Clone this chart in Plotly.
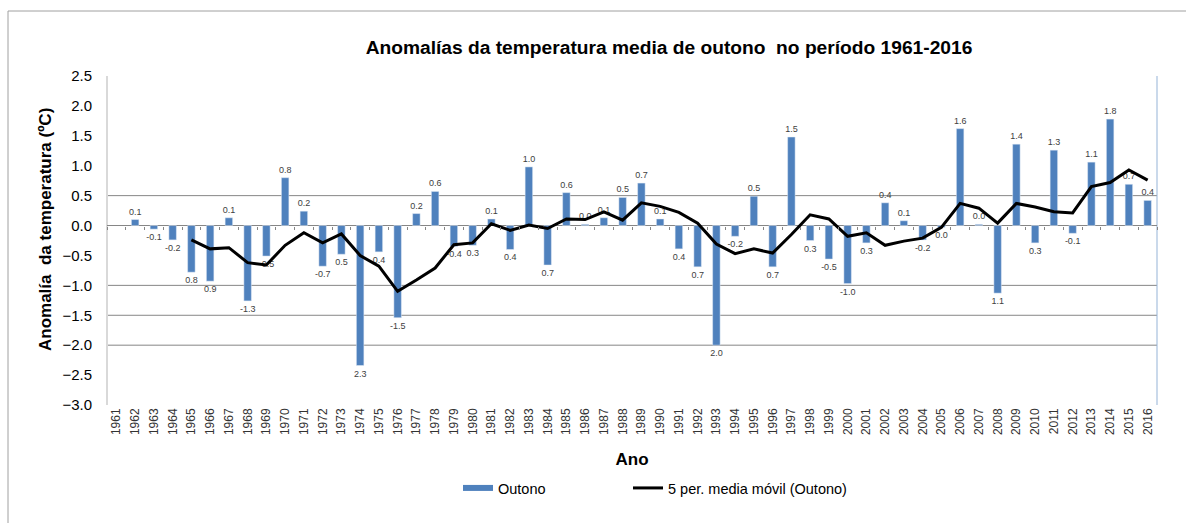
import plotly.graph_objects as go

years = list(range(1961, 2017))
year_labels = [str(y) for y in years]

anomaly = [None, 0.10, -0.06, -0.24, -0.78, -0.93, 0.13, -1.26, -0.51, 0.80,
           0.24, -0.68, -0.48, -2.34, -0.44, -1.54, 0.20, 0.57, -0.35, -0.33,
           0.11, -0.40, 0.98, -0.66, 0.55, 0.02, 0.13, 0.47, 0.71, 0.11,
           -0.39, -0.69, -2.00, -0.18, 0.49, -0.69, 1.48, -0.25, -0.56, -0.97,
           -0.29, 0.38, 0.08, -0.24, -0.03, 1.62, 0.02, -1.13, 1.36, -0.29,
           1.26, -0.13, 1.06, 1.78, 0.69, 0.42]

bar_text = ["", "0.1", "-0.1", "-0.2", "0.8", "0.9", "0.1", "-1.3", "-0.5", "0.8",
            "0.2", "-0.7", "0.5", "2.3", "0.4", "-1.5", "0.2", "0.6", "-0.4", "0.3",
            "0.1", "0.4", "1.0", "0.7", "0.6", "0.0", "0.1", "0.5", "0.7", "0.1",
            "0.4", "0.7", "2.0", "-0.2", "0.5", "0.7", "1.5", "0.3", "-0.5", "-1.0",
            "0.3", "0.4", "0.1", "-0.2", "0.0", "1.6", "0.0", "1.1", "1.4", "0.3",
            "1.3", "-0.1", "1.1", "1.8", "0.7", "0.4"]

moving_avg = [None, None, None, None, -0.24, -0.39, -0.37, -0.62, -0.66, -0.33,
              -0.12, -0.29, -0.14, -0.50, -0.68, -1.10, -0.91, -0.71, -0.32, -0.29,
              0.03, -0.08, 0.01, -0.05, 0.11, 0.10, 0.23, 0.09, 0.38, 0.32,
              0.22, 0.04, -0.31, -0.47, -0.39, -0.46, -0.15, 0.18, 0.11, -0.18,
              -0.12, -0.33, -0.26, -0.21, -0.03, 0.37, 0.29, 0.04, 0.37, 0.31,
              0.23, 0.21, 0.65, 0.72, 0.93, 0.76]

y_min, y_max = -3.0, 2.5
visible_grid = [0.5, -1.0, -1.5, -2.0]

FONT = "Liberation Sans, Arial, sans-serif"
BLUE = "#4F81BD"

fig = go.Figure()

fig.add_trace(go.Bar(
    x=year_labels, y=anomaly, name="Outono", marker_color=BLUE,
    text=bar_text, textposition="outside", constraintext="none", cliponaxis=False,
    textfont=dict(size=9, color="#404040", family=FONT),
    showlegend=False, hoverinfo="x+y",
))
fig.add_trace(go.Scatter(
    x=year_labels, y=moving_avg, mode="lines", name="5 per. media móvil (Outono)",
    line=dict(color="black", width=3), xaxis="x2", showlegend=False,
))
# legend entries
fig.add_trace(go.Scatter(x=[None], y=[None], mode="lines", name="Outono",
                         line=dict(color=BLUE, width=6), legend="legend"))
fig.add_trace(go.Scatter(x=[None], y=[None], mode="lines", name="5 per. media móvil (Outono)",
                         line=dict(color="black", width=3), legend="legend2"))

shapes = []
for g in visible_grid:
    shapes.append(dict(type="line", xref="paper", yref="y", x0=0, x1=1, y0=g, y1=g,
                       line=dict(color="#868686", width=1), layer="below"))
shapes.append(dict(type="line", xref="paper", yref="paper", x0=0, x1=0, y0=0, y1=1,
                   line=dict(color="#D9D9D9", width=2), layer="below"))
shapes.append(dict(type="line", xref="paper", yref="paper", x0=1, x1=1, y0=0, y1=1,
                   line=dict(color="#95B3D7", width=1), layer="below"))
shapes.append(dict(type="rect", xref="paper", yref="paper",
                   x0=(8 - 107) / 1050, x1=1.2, y0=-1.0, y1=(405 - 11) / 329,
                   line=dict(color="#A0A0A0", width=1), layer="below"))

ncat = len(years)
fig.update_layout(
    width=1186, height=523,
    margin=dict(l=107, r=29, t=76, b=118),
    paper_bgcolor="white", plot_bgcolor="white",
    font=dict(family=FONT, color="black"),
    title=dict(text="<b>Anomalías da temperatura media de outono  no período 1961-2016</b>",
               x=669 / 1186, xanchor="center", y=1 - 47 / 523, yanchor="middle",
               font=dict(size=19.2, family=FONT, color="black")),
    bargap=0.6,
    xaxis=dict(type="category", categoryarray=year_labels, range=[-0.5, ncat - 0.5],
               tickangle=-90, tickfont=dict(size=12, family=FONT, color="#333333"),
               showgrid=False, showline=False, ticks="",
               title=dict(text="<b>Ano</b>", font=dict(size=17, family=FONT, color="black"),
                          standoff=18)),
    xaxis2=dict(type="category", categoryarray=year_labels, range=[-0.5, ncat - 0.5],
                overlaying="x", anchor="free", position=(0 - y_min) / (y_max - y_min),
                showticklabels=False, ticks="outside", ticklen=3, tickcolor="#868686",
                tickson="boundaries", showgrid=False, showline=False),
    yaxis=dict(range=[y_min, y_max], dtick=0.5, tickformat=".1f",
               tickfont=dict(size=15, family=FONT, color="black"),
               showgrid=False, zeroline=True, zerolinecolor="#868686", zerolinewidth=1,
               showline=False, ticks="", ticklabelstandoff=14),
    shapes=shapes,
    annotations=[dict(text="<b>Anomalía  da temperatura (ºC)</b>", textangle=-90,
                      xref="paper", yref="paper", x=(45 - 107) / 1050, y=(405 - 230) / 329,
                      xanchor="center", yanchor="middle", showarrow=False,
                      font=dict(size=17, family=FONT, color="black"))],
    legend=dict(orientation="h", x=(458 - 107) / 1050, xanchor="left",
                y=(405 - 488) / 329, yanchor="middle", font=dict(size=14.5, family=FONT),
                bgcolor="rgba(0,0,0,0)", itemwidth=30),
    legend2=dict(orientation="h", x=(628 - 107) / 1050, xanchor="left",
                 y=(405 - 488) / 329, yanchor="middle", font=dict(size=14.5, family=FONT),
                 bgcolor="rgba(0,0,0,0)", itemwidth=30),
)

fig.write_html("out.html", config={"displayModeBar": False},
               post_script="document.body.style.margin='0';document.body.style.overflow='hidden';")
